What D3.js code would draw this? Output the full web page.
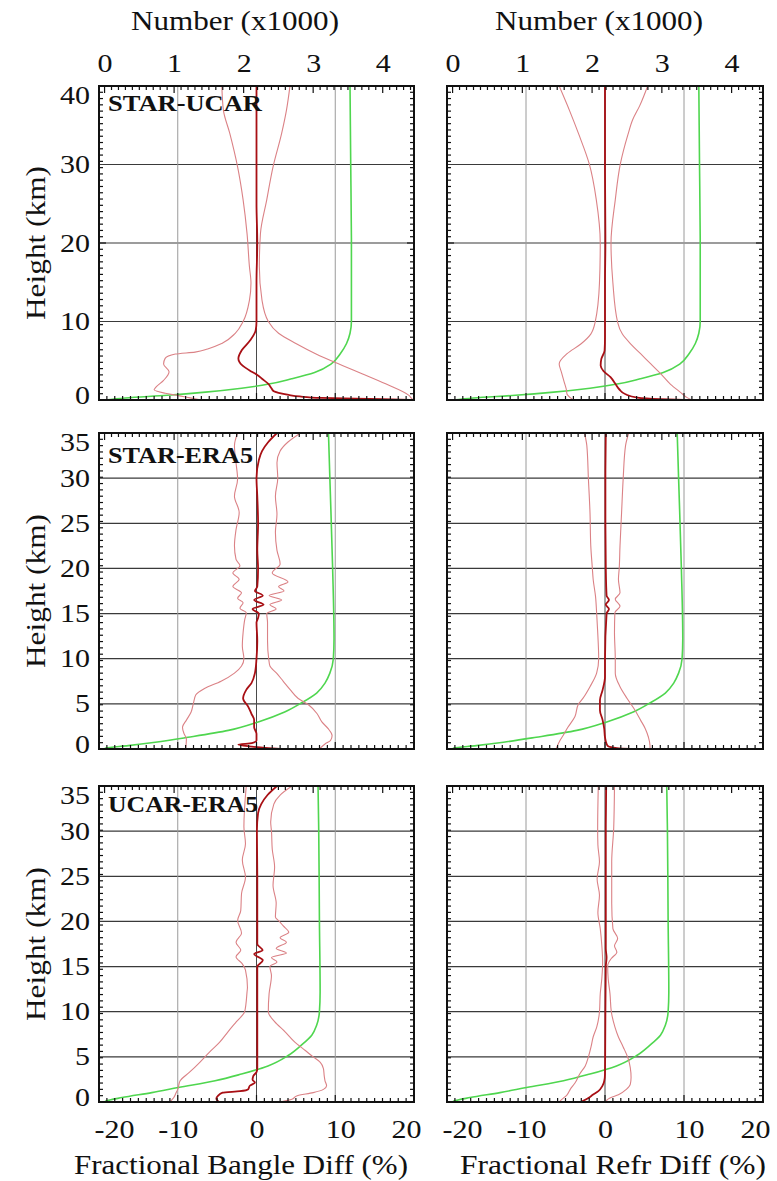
<!DOCTYPE html>
<html>
<head>
<meta charset="utf-8">
<script src="https://cdn.jsdelivr.net/npm/d3@7"></script>
<style>
  body { margin: 0; background: #fff; }
  text { font-family: "Times New Roman", "Liberation Serif", serif; fill: #111; }
</style>
</head>
<body>
<svg id="chart" width="777" height="1181"></svg>
<script>
// ---- data: [height km, value] ----
// STAR-UCAR
var suBangMean = [[0,19.5],[0.1,16],[0.26,8.3],[0.45,5.5],[0.64,4.1],[0.9,2.8],[1.1,2.2],[1.5,1.9],[2.06,1.5],[2.7,0.7],[3.2,0.1],[3.6,-0.6],[4.4,-1.8],[5.3,-2.3],[6.3,-1.9],[7.6,-0.8],[8.9,-0.1],[10,0],[15,0],[20,0.1],[25,0],[30,0],[35,0],[40,0]];
var suBangLo = [[0,-7],[0.3,-8.6],[0.56,-9.9],[0.86,-11.6],[1.3,-13.0],[1.6,-12.8],[2.5,-11.8],[3.6,-11.1],[4.6,-11.8],[5.3,-11.6],[5.85,-10.3],[6.1,-7.8],[6.5,-6.2],[7.2,-4.4],[8.5,-2.7],[10,-1.7],[12.7,-0.9],[14.9,-0.7],[17,-0.9],[21.2,-1.2],[25.5,-1.7],[29.7,-2.4],[34,-3.4],[36.9,-4.2],[40,-4.4]];
var suBangHi = [[0,20],[0.1,19.8],[0.56,19.4],[2.06,16.4],[3.35,13.4],[4.4,10.9],[5.9,7.5],[7.2,5.0],[8.5,2.8],[10,1.5],[12.7,0.7],[17,0.36],[21.2,0.5],[25.5,1.3],[29.7,2.1],[34,3.2],[36.9,3.8],[40,4.25]];
var suRefrMean = [[0,10],[0.1,7],[0.3,4.1],[0.73,2.6],[1.37,1.8],[2.0,1.35],[2.9,0.7],[3.7,-0.2],[4.4,-0.55],[5.2,-0.47],[6.3,-0.05],[8,0],[15,0],[20,0.05],[30,0],[40,0]];
var suRefrLo = [[0,-4],[0.3,-4.4],[0.73,-4.8],[1.37,-4.9],[2.4,-5.2],[3.5,-5.5],[4.6,-5.8],[5.9,-4.8],[7.1,-3.1],[8.4,-1.8],[9.9,-1.25],[14.9,-0.7],[20,-0.6],[25.5,-1.1],[30.1,-2.0],[33.8,-3.3],[36.9,-4.5],[40,-5.8]];
var suRefrHi = [[0,11],[0.3,10.4],[0.94,9.6],[2.0,8.3],[3.3,7.1],[4.6,5.8],[5.9,4.5],[7.1,3.3],[8.4,2.2],[9.9,1.6],[14.9,1.0],[20,0.76],[25.5,1.3],[30.1,1.95],[33.8,2.9],[35.7,3.5],[37.5,4.4],[40,5.4]];
var suCount = [[0,0],[0.26,0.3],[0.6,0.9],[1.0,1.45],[1.5,1.97],[2.06,2.38],[2.7,2.69],[3.5,3.02],[4.6,3.26],[5.9,3.39],[7.2,3.48],[8.5,3.53],[10,3.55],[20,3.55],[30,3.54],[40,3.53]];

// STAR-ERA5
var seBangMean = [[0,3],[0.1,1.5],[0.3,-1.0],[0.5,-2.3],[0.64,-0.6],[0.94,0],[1.7,0],[2.4,-0.3],[3.2,-0.3],[3.9,-0.64],[4.7,-1.06],[5.6,-1.7],[6.55,-1.3],[7.3,-0.64],[8.4,-0.2],[10,0],[12,0.1],[14,0],[14.5,0.2],[15,0.3],[15.5,-0.5],[16,0.9],[16.5,-0.3],[17,0.8],[17.5,-0.2],[18,0.1],[20,0.2],[22,0.1],[25,0.2],[28,0.1],[30,0],[32,0.3],[33,0.7],[34,1.5],[35,2.6]];
var seBangLo = [[0,-9],[1.1,-8.9],[1.7,-9.2],[2.4,-9.4],[3.2,-8.9],[4.1,-8.3],[5.1,-8.0],[6.0,-7.7],[6.7,-6.6],[7.5,-4.5],[8.4,-2.8],[9.2,-1.9],[10,-1.6],[11.4,-1.8],[12.9,-1.7],[14.3,-1.5],[15.1,-1.3],[15.6,-2.1],[16.2,-1.7],[16.7,-2.4],[17.3,-1.9],[18,-3.0],[18.8,-2.2],[19.5,-3.0],[20.3,-2.1],[21,-2.6],[22.5,-2.8],[24.3,-2.6],[26.2,-2.2],[28,-2.8],[29.9,-2.4],[31.7,-2.6],[33.6,-2.8],[35,-2.4]];
var seBangHi = [[0,8],[0.56,8.7],[0.94,9.4],[1.5,9.6],[2.25,9.1],[3.0,8.3],[3.9,7.7],[4.9,6.6],[5.6,5.3],[6.55,4.3],[7.5,3.4],[8.4,2.55],[9.2,1.7],[10,1.55],[12,1.4],[14,1.4],[15,1.3],[15.5,2.5],[16,1.7],[16.5,3.2],[17,1.6],[17.5,3.5],[18,2.8],[18.5,4.0],[19.5,2.0],[20.5,3.0],[22,2.6],[24,2.4],[26,2.6],[28,2.4],[30,2.7],[31.7,2.6],[33,3.0],[34,4.0],[35,5.6]];
var seRefrMean = [[0,3.2],[0.1,1.5],[0.3,0.4],[0.56,0.2],[1.3,0],[2.25,-0.1],[3.2,-0.3],[4.3,-0.64],[5.4,-0.64],[6.55,-0.3],[8,0],[10,0],[15,0.2],[15.5,0.5],[16,0.1],[16.5,0.5],[17,0.2],[20,0.1],[25,0.05],[30,0.05],[35,0.1]];
var seRefrLo = [[0,-6.2],[0.94,-5.7],[1.5,-5.3],[2.4,-4.7],[3.6,-3.8],[4.9,-3.4],[5.6,-2.8],[6.9,-1.9],[8.4,-1.06],[10,-0.8],[13.2,-0.94],[15.1,-1.06],[16.9,-1.2],[18.8,-1.5],[20,-1.6],[22.5,-1.8],[26.2,-1.9],[29.9,-2.1],[33.6,-2.3],[35,-2.6]];
var seRefrHi = [[0,5.7],[0.37,5.7],[1.3,5.5],[2.25,5.1],[3.2,4.5],[4.3,3.8],[5.6,2.8],[6.9,1.9],[8.4,1.3],[10,1.3],[12.9,1.2],[15.1,1.25],[15.8,1.9],[16.6,1.3],[17.3,1.9],[18.8,1.7],[20,1.8],[22.5,1.9],[26.2,2.1],[29.9,2.3],[33.6,2.6],[35,3.0]];
var seCount = [[0,0],[0.1,0.02],[0.37,0.34],[0.75,0.73],[1.3,1.2],[2.06,1.78],[3.0,2.21],[4.1,2.59],[5.1,2.83],[6.2,3.05],[7.3,3.17],[8.4,3.24],[10,3.29],[12.2,3.30],[20,3.28],[30,3.24],[35,3.22]];

// UCAR-ERA5
var ueBangMean = [[0,-4.8],[0.1,-4.9],[0.37,-5.1],[0.67,-4.9],[1.04,-4.3],[1.2,-2.1],[1.4,-1.06],[1.8,-0.85],[2.16,-0.2],[2.46,-0.5],[2.9,-0.4],[3.3,0],[3.7,0.1],[5,0.1],[10,0.1],[14,0.1],[15,0.1],[15.7,0.8],[16.4,-0.3],[16.8,0.77],[17.5,0.1],[20,0.1],[25,0.1],[30,0.05],[32,0.2],[33,0.6],[34,1.4],[35,2.6]];
var ueBangLo = [[0,-11],[0.5,-10.5],[1.04,-10.2],[1.4,-10.0],[2.35,-9.7],[3.3,-8.5],[4.4,-7.2],[5.5,-6.0],[6.6,-4.7],[7.8,-3.6],[8.9,-2.55],[10,-1.5],[12.2,-1.2],[12.7,-1.15],[14.6,-1.4],[15.3,-1.8],[16.1,-2.6],[16.8,-2.0],[17.7,-2.6],[18.7,-1.9],[20.1,-2.4],[21.2,-2.0],[23.1,-1.9],[24.9,-1.4],[26.8,-1.8],[28.6,-1.4],[30.5,-1.6],[35,-1.3]];
var ueBangHi = [[0,3],[0.3,4.5],[0.67,5.1],[1.04,7.2],[1.4,8.5],[1.8,8.9],[2.35,8.7],[2.9,8.6],[3.7,8.5],[4.4,8.1],[5.0,7.2],[5.7,6.2],[6.6,4.9],[7.8,3.6],[8.9,2.3],[10,1.5],[12,1.6],[14,1.9],[15,1.7],[15.5,2.6],[16,1.9],[16.5,3.8],[17,2.5],[17.7,3.8],[18.2,3.0],[18.8,4.1],[19.5,3.4],[20,2.9],[20.5,2.4],[22,2.5],[24,2.1],[26,2.3],[28,2.0],[30,1.9],[31,1.8],[33,2.2],[34,3.0],[35,4.5]];
var ueRefrMean = [[0,-3],[0.15,-2.7],[0.45,-2.1],[0.82,-1.5],[1.2,-0.84],[1.76,-0.34],[2.3,-0.1],[3.1,0],[10,0.05],[15,0.1],[16,0.2],[17,0.1],[20,0.1],[30,0.1],[35,0.15]];
var ueRefrLo = [[0,-5.8],[0.26,-5.5],[0.8,-4.8],[1.4,-4.4],[2.1,-3.8],[3.1,-3.2],[4.0,-2.5],[5.0,-2.1],[6.1,-1.77],[7.2,-1.5],[8.3,-1.05],[10,-0.7],[12,-0.6],[13.7,-0.4],[15.5,-0.3],[17.3,-0.4],[19.2,-0.6],[21,-0.9],[22.9,-0.7],[24.7,-1.0],[26.6,-0.7],[28.5,-0.9],[30.3,-0.93],[35,-0.85]];
var ueRefrHi = [[0,0.3],[0.15,0.2],[0.45,0.63],[0.8,1.7],[1.4,2.7],[1.95,3.2],[2.7,3.3],[3.8,3.2],[4.9,2.9],[6.1,2.3],[7.2,1.7],[8.3,1.26],[10,0.8],[12,0.63],[13.7,0.4],[15.1,0.34],[15.9,0.8],[16.6,1.5],[17.3,1.2],[18.1,1.6],[19.2,1.0],[22,0.85],[26.6,0.85],[30.3,1.1],[35,1.2]];
var ueCount = [[0,0],[0.1,0.02],[0.49,0.25],[1.04,0.68],[1.6,1.06],[2.35,1.59],[3.1,1.97],[4.0,2.35],[5.15,2.64],[6.3,2.83],[7.4,2.98],[8.5,3.05],[10,3.09],[12.2,3.10],[20,3.09],[30,3.08],[35,3.07]];

var pairs = ["STAR-UCAR", "STAR-ERA5", "UCAR-ERA5"];
var diffTicks = [-20, -10, 0, 10, 20];
var countTicks = [0, 1, 2, 3, 4];
var xTitles = ["Fractional Bangle  Diff (%)", "Fractional Refr Diff (%)"];

// ---- layout ----
var svg = d3.select("#chart");
var SX = 1.2; // glyphs in the picture are stretched sideways

var cols = [{x0: 99, x1: 414}, {x0: 447, x1: 763}];
var rows = [
  {y0: 86,  y1: 400,  top: 40, step: 10, labY: 25, labLen: 154},
  {y0: 433, y1: 749,  top: 35, step: 5,  labY: 30, labLen: 145},
  {y0: 786, y1: 1102, top: 35, step: 5,  labY: 26, labLen: 150}
];

var panels = [
  {r: 0, c: 0, mean: suBangMean, lo: suBangLo, hi: suBangHi, num: suCount},
  {r: 0, c: 1, mean: suRefrMean, lo: suRefrLo, hi: suRefrHi, num: suCount},
  {r: 1, c: 0, mean: seBangMean, lo: seBangLo, hi: seBangHi, num: seCount},
  {r: 1, c: 1, mean: seRefrMean, lo: seRefrLo, hi: seRefrHi, num: seCount},
  {r: 2, c: 0, mean: ueBangMean, lo: ueBangLo, hi: ueBangHi, num: ueCount},
  {r: 2, c: 1, mean: ueRefrMean, lo: ueRefrLo, hi: ueRefrHi, num: ueCount}
];

function stretchText(sel, dx, dy) {
  sel.attr("transform", "translate(" + (dx || 0) + "," + (dy || 0) + ") scale(" + SX + ",1)");
}

panels.forEach(function(p, i) {
  var R = rows[p.r], C = cols[p.c];
  var x = d3.scaleLinear().domain([-20, 20]).range([C.x0, C.x1]);
  var xn = d3.scaleLinear().domain([-0.08, 4.45]).range([C.x0, C.x1]);
  var y = d3.scaleLinear().domain([0, R.top]).range([R.y1, R.y0]);

  var g = svg.append("g");

  g.append("clipPath").attr("id", "clip" + i)
    .append("rect")
    .attr("x", C.x0).attr("y", R.y0)
    .attr("width", C.x1 - C.x0).attr("height", R.y1 - R.y0);

  // grid
  g.selectAll(".hgrid").data(d3.range(R.step, R.top, R.step)).enter()
    .append("line")
    .attr("x1", C.x0).attr("x2", C.x1)
    .attr("y1", function(d) { return y(d); }).attr("y2", function(d) { return y(d); })
    .attr("stroke", "#3a3a3a").attr("stroke-width", 1.2);
  g.selectAll(".vgrid").data([-10, 0, 10]).enter()
    .append("line")
    .attr("x1", function(d) { return x(d); }).attr("x2", function(d) { return x(d); })
    .attr("y1", R.y0).attr("y2", R.y1)
    .attr("stroke", function(d) { return d == 0 ? "#4a4a4a" : "#9a9a9a"; })
    .attr("stroke-width", 1);

  var plot = g.append("g").attr("clip-path", "url(#clip" + i + ")");

  var diffLine = d3.line()
    .x(function(d) { return x(d[1]); })
    .y(function(d) { return y(d[0]); })
    .curve(d3.curveMonotoneY);
  var numLine = d3.line()
    .x(function(d) { return xn(d[1]); })
    .y(function(d) { return y(d[0]); })
    .curve(d3.curveMonotoneY);

  plot.append("path").datum(p.num).attr("d", numLine)
    .attr("fill", "none").attr("stroke", "#4fd64f").attr("stroke-width", 1.6);
  [p.lo, p.hi].forEach(function(s) {
    plot.append("path").datum(s).attr("d", diffLine)
      .attr("fill", "none").attr("stroke", "#db8286").attr("stroke-width", 1.1);
  });
  plot.append("path").datum(p.mean).attr("d", diffLine)
    .attr("fill", "none").attr("stroke", "#a80f14").attr("stroke-width", 1.8);

  // frame
  g.append("rect")
    .attr("x", C.x0).attr("y", R.y0)
    .attr("width", C.x1 - C.x0).attr("height", R.y1 - R.y0)
    .attr("fill", "none").attr("stroke", "#111").attr("stroke-width", 2);

  // inward minor ticks on all four sides
  var hT = d3.range(0, R.top + 0.001, R.top / 50);
  var ticks = g.append("g").attr("stroke", "#111").attr("stroke-width", 1.2);
  hT.forEach(function(h) {
    var L = Math.abs(h / R.step - Math.round(h / R.step)) < 1e-6 ? 7 : 4;
    ticks.append("line").attr("x1", C.x0).attr("x2", C.x0 + L).attr("y1", y(h)).attr("y2", y(h));
    ticks.append("line").attr("x1", C.x1).attr("x2", C.x1 - L).attr("y1", y(h)).attr("y2", y(h));
  });
  d3.range(-20, 20.01, 1).forEach(function(v) {
    var L = v % 10 == 0 ? 7 : 4;
    ticks.append("line").attr("x1", x(v)).attr("x2", x(v)).attr("y1", R.y1).attr("y2", R.y1 - L);
  });
  d3.range(0, 4.45, 0.1).forEach(function(v) {
    var L = Math.abs(v - Math.round(v)) < 1e-6 ? 7 : 4;
    ticks.append("line").attr("x1", xn(v)).attr("x2", xn(v)).attr("y1", R.y0).attr("y2", R.y0 + L);
  });

  // left: height labels
  if (p.c == 0) {
    var tv = d3.range(0, R.top + 0.001, R.step);
    var ax = g.append("g").attr("transform", "translate(" + C.x0 + ",0)")
      .call(d3.axisLeft(y).tickValues(tv).tickSize(0).tickPadding(0)
        .tickFormat(function(d) { return String(d); }));
    ax.attr("font-size", 25).select(".domain").remove();
    ax.selectAll("text").each(function(d) {
      var dy = d == R.top ? 9 : (d == 0 ? -5 : 0);
      stretchText(d3.select(this), -9, dy);
    });

    g.append("text")
      .attr("transform", "translate(45," + ((R.y0 + R.y1) / 2) + ") rotate(-90)")
      .attr("text-anchor", "middle").attr("font-size", 27)
      .attr("textLength", 154).attr("lengthAdjust", "spacingAndGlyphs")
      .text("Height  (km)");

    g.append("text")
      .attr("x", C.x0 + 9).attr("y", R.y0 + R.labY)
      .attr("font-size", 23).attr("font-weight", "bold")
      .attr("textLength", R.labLen).attr("lengthAdjust", "spacingAndGlyphs")
      .text(pairs[p.r]);
  }

  // top row: count axis
  if (p.r == 0) {
    var axT = g.append("g").attr("transform", "translate(0," + R.y0 + ")")
      .call(d3.axisTop(xn).tickValues(countTicks).tickSize(0).tickPadding(14)
        .tickFormat(function(d) { return String(d); }));
    axT.attr("font-size", 25).select(".domain").remove();
    axT.selectAll("text").each(function() { stretchText(d3.select(this), 0, 0); });

    g.append("text")
      .attr("x", p.c == 0 ? 235 : 599).attr("y", 30)
      .attr("text-anchor", "middle").attr("font-size", 27)
      .attr("textLength", 208).attr("lengthAdjust", "spacingAndGlyphs")
      .text("Number (x1000)");
  }

  // bottom row: diff axis
  if (p.r == 2) {
    var shift = [15, 0, 0, 5, -8];
    var axB = g.append("g").attr("transform", "translate(0," + R.y1 + ")")
      .call(d3.axisBottom(x).tickValues(diffTicks).tickSize(0).tickPadding(18)
        .tickFormat(function(d) { return String(d); }));
    axB.attr("font-size", 25).select(".domain").remove();
    axB.selectAll("text").each(function(d, k) { stretchText(d3.select(this), shift[k], 0); });

    g.append("text")
      .attr("x", p.c == 0 ? 241 : 613).attr("y", 1174)
      .attr("text-anchor", "middle").attr("font-size", 27)
      .attr("textLength", p.c == 0 ? 334 : 306).attr("lengthAdjust", "spacingAndGlyphs")
      .text(xTitles[p.c]);
  }
});
</script>
</body>
</html>
